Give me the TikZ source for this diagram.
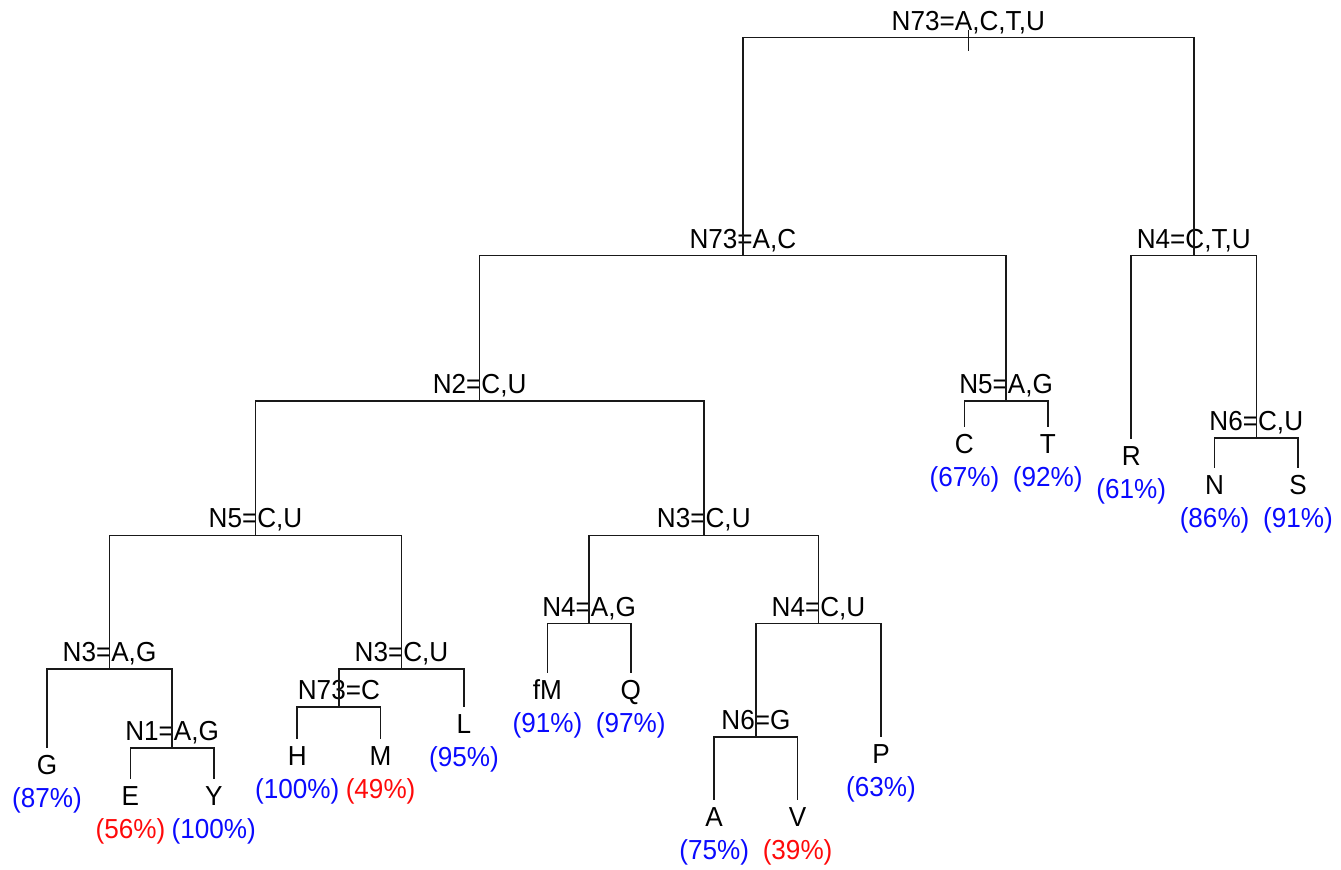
\documentclass[tikz,border=0pt]{standalone}
\usepackage{fontspec}
\setmainfont[FakeStretch=0.95]{Liberation Sans}
\definecolor{pblue}{RGB}{10,10,255}
\definecolor{pred}{RGB}{255,10,10}
\begin{document}
\begin{tikzpicture}[x=0.5pt,y=-0.5pt,
  txt/.style={anchor=base,inner sep=0pt,font=\fontsize{13.75}{16}\selectfont},
  pctblue/.style={txt,text=pblue},
  pctred/.style={txt,text=pred},
  edge/.style={draw=black!90,line width=0.75pt}]
\useasboundingbox (0,0) rectangle (1341,870);
% internal nodes (x, y of split line)
\coordinate (root)  at (968.3,37.7);
\coordinate (n73ac) at (742.9,255.7);
\coordinate (n4ctu) at (1193.8,255.7);
\coordinate (n2)    at (479.6,401);
\coordinate (n5ag)  at (1006.1,401);
\coordinate (n6cu)  at (1256.3,438);
\coordinate (n5cu)  at (255.5,535.5);
\coordinate (n3cub) at (703.8,535.5);
\coordinate (n3ag)  at (109.5,669);
\coordinate (n3cua) at (401.5,669);
\coordinate (n4ag)  at (589.1,623.7);
\coordinate (n4cu)  at (818.5,623.7);
\coordinate (n73c)  at (338.9,707);
\coordinate (n1)    at (172.1,748);
\coordinate (n6g)   at (755.9,737);
% leaves (x, end of line)
\coordinate (lfG)  at (47,748);
\coordinate (lfE)  at (130.4,779);
\coordinate (lfY)  at (213.8,779);
\coordinate (lfH)  at (297.2,739);
\coordinate (lfM)  at (380.6,739);
\coordinate (lfL)  at (464,707);
\coordinate (lffM) at (547.4,673);
\coordinate (lfQ)  at (630.8,673);
\coordinate (lfA)  at (714.2,800);
\coordinate (lfV)  at (797.6,800);
\coordinate (lfP)  at (881,737);
\coordinate (lfC)  at (964.4,427);
\coordinate (lfT)  at (1047.8,427);
\coordinate (lfR)  at (1131.2,439);
\coordinate (lfN)  at (1214.6,468);
\coordinate (lfS)  at (1298,468);
\coordinate (rtop) at (968.3,30);
\coordinate (rbot) at (968.3,51);
% split labels
\path (root)  ++(0,-7.5) node[txt] (troot)  {N73=A,C,T,U};
\path (n73ac) ++(0,-7.5) node[txt] (tn73ac) {N73=A,C};
\path (n4ctu) ++(0,-7.5) node[txt] (tn4ctu) {N4=C,T,U};
\path (n2)    ++(0,-7.5) node[txt] (tn2)    {N2=C,U};
\path (n5ag)  ++(0,-7.5) node[txt] (tn5ag)  {N5=A,G};
\path (n6cu)  ++(0,-7.5) node[txt] (tn6cu)  {N6=C,U};
\path (n5cu)  ++(0,-7.5) node[txt] (tn5cu)  {N5=C,U};
\path (n3cub) ++(0,-7.5) node[txt] (tn3cub) {N3=C,U};
\path (n3ag)  ++(0,-7.5) node[txt] (tn3ag)  {N3=A,G};
\path (n3cua) ++(0,-7.5) node[txt] (tn3cua) {N3=C,U};
\path (n4ag)  ++(0,-7.5) node[txt] (tn4ag)  {N4=A,G};
\path (n4cu)  ++(0,-7.5) node[txt] (tn4cu)  {N4=C,U};
\path (n73c)  ++(0,-7.5) node[txt] (tn73c)  {N73=C};
\path (n1)    ++(0,-7.5) node[txt] (tn1)    {N1=A,G};
\path (n6g)   ++(0,-7.5) node[txt] (tn6g)   {N6=G};
% leaf labels
\path (lfG)  ++(0,26.5) node[txt] (tG)  {G}  ++(0,33.5) node[pctblue] (pG)  {(87\%)};
\path (lfE)  ++(0,26.5) node[txt] (tE)  {E}  ++(0,33.5) node[pctred]  (pE)  {(56\%)};
\path (lfY)  ++(0,26.5) node[txt] (tY)  {Y}  ++(0,33.5) node[pctblue] (pY)  {(100\%)};
\path (lfH)  ++(0,26.5) node[txt] (tH)  {H}  ++(0,33.5) node[pctblue] (pH)  {(100\%)};
\path (lfM)  ++(0,26.5) node[txt] (tM)  {M}  ++(0,33.5) node[pctred]  (pM)  {(49\%)};
\path (lfL)  ++(0,26.5) node[txt] (tL)  {L}  ++(0,33.5) node[pctblue] (pL)  {(95\%)};
\path (lffM) ++(0,26.5) node[txt] (tfM) {fM} ++(0,33.5) node[pctblue] (pfM) {(91\%)};
\path (lfQ)  ++(0,26.5) node[txt] (tQ)  {Q}  ++(0,33.5) node[pctblue] (pQ)  {(97\%)};
\path (lfA)  ++(0,26.5) node[txt] (tA)  {A}  ++(0,33.5) node[pctblue] (pA)  {(75\%)};
\path (lfV)  ++(0,26.5) node[txt] (tV)  {V}  ++(0,33.5) node[pctred]  (pV)  {(39\%)};
\path (lfP)  ++(0,26.5) node[txt] (tP)  {P}  ++(0,33.5) node[pctblue] (pP)  {(63\%)};
\path (lfC)  ++(0,26.5) node[txt] (tC)  {C}  ++(0,33.5) node[pctblue] (pC)  {(67\%)};
\path (lfT)  ++(0,26.5) node[txt] (tT)  {T}  ++(0,33.5) node[pctblue] (pT)  {(92\%)};
\path (lfR)  ++(0,26.5) node[txt] (tR)  {R}  ++(0,33.5) node[pctblue] (pR)  {(61\%)};
\path (lfN)  ++(0,26.5) node[txt] (tN)  {N}  ++(0,33.5) node[pctblue] (pN)  {(86\%)};
\path (lfS)  ++(0,26.5) node[txt] (tS)  {S}  ++(0,33.5) node[pctblue] (pS)  {(91\%)};
% connectors
\draw[edge] (lfE) |- (n1) -| (lfY);
\draw[edge] (lfG) |- (n3ag) -| (n1);
\draw[edge] (lfH) |- (n73c) -| (lfM);
\draw[edge] (n73c) |- (n3cua) -| (lfL);
\draw[edge] (n3ag) |- (n5cu) -| (n3cua);
\draw[edge] (lffM) |- (n4ag) -| (lfQ);
\draw[edge] (lfA) |- (n6g) -| (lfV);
\draw[edge] (n6g) |- (n4cu) -| (lfP);
\draw[edge] (n4ag) |- (n3cub) -| (n4cu);
\draw[edge] (n5cu) |- (n2) -| (n3cub);
\draw[edge] (lfC) |- (n5ag) -| (lfT);
\draw[edge] (n2) |- (n73ac) -| (n5ag);
\draw[edge] (lfN) |- (n6cu) -| (lfS);
\draw[edge] (lfR) |- (n4ctu) -| (n6cu);
\draw[edge] (n73ac) |- (root) -| (n4ctu);
\draw[edge] (rtop) -- (rbot);
\end{tikzpicture}
\end{document}
